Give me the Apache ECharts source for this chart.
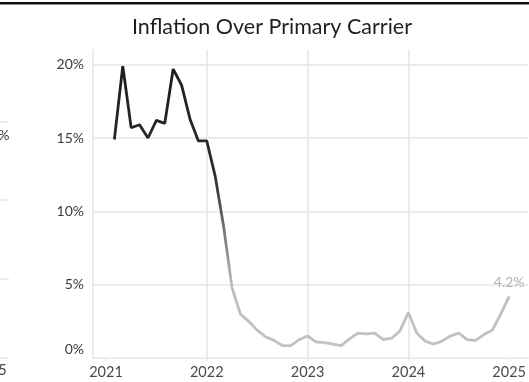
<!DOCTYPE html>
<html>
<head>
<meta charset="utf-8">
<script src="https://cdn.jsdelivr.net/npm/echarts@6/dist/echarts.min.js"></script>
<style>
  html, body { margin: 0; padding: 0; background: #fff; }
  #chart { width: 529px; height: 382px; }
</style>
</head>
<body>
<div id="chart"></div>
<script>
// Monthly inflation over the primary carrier, Feb 2021 – Jan 2025
const months = [
  '2021-02','2021-03','2021-04','2021-05','2021-06','2021-07','2021-08','2021-09','2021-10','2021-11','2021-12',
  '2022-01','2022-02','2022-03','2022-04','2022-05','2022-06','2022-07','2022-08','2022-09','2022-10','2022-11','2022-12',
  '2023-01','2023-02','2023-03','2023-04','2023-05','2023-06','2023-07','2023-08','2023-09','2023-10','2023-11','2023-12',
  '2024-01','2024-02','2024-03','2024-04','2024-05','2024-06','2024-07','2024-08','2024-09','2024-10','2024-11','2024-12',
  '2025-01'
];
const inflationPct = [
  14.9, 19.9, 15.7, 15.9, 15.0, 16.2, 16.0, 19.7, 18.6, 16.3, 14.8,
  14.8, 12.4, 9.0, 4.8, 3.0, 2.5, 1.9, 1.45, 1.2, 0.85, 0.85, 1.25,
  1.5, 1.1, 1.05, 0.95, 0.85, 1.3, 1.7, 1.65, 1.7, 1.25, 1.35, 1.85,
  3.1, 1.7, 1.15, 0.95, 1.15, 1.5, 1.7, 1.25, 1.2, 1.6, 1.9, 3.0,
  4.2
];
const yearTicks = [2021, 2022, 2023, 2024, 2025];
const yTicks = [0, 5, 10, 15, 20];

// month string -> fractional year on the value axis
function toYear(m) {
  const [y, mo] = m.split('-').map(Number);
  return y + (mo - 1) / 12;
}
const seriesData = months.map((m, i) => [toYear(m), inflationPct[i]]);
const lastIdx = seriesData.length - 1;

const gridColor = '#e6e6e6';
const chart = echarts.init(document.getElementById('chart'), null, { renderer: 'canvas' });

chart.setOption({
  backgroundColor: '#ffffff',
  animation: false,
  title: {
    text: 'Inflation Over Primary Carrier',
    left: 127,
    top: 11,
    textStyle: { fontFamily: 'Lato', fontSize: 21.5, fontWeight: 'normal', color: '#1f1f1f' }
  },
  grid: { left: 93, right: 0, top: 50, bottom: 24, containLabel: false },
  xAxis: {
    type: 'value',
    min: 2021 - 13 / 101,
    max: 2025 + 19 / 101,
    axisLine: { show: true, lineStyle: { color: gridColor, width: 1.5 } },
    axisTick: { show: true, customValues: yearTicks, length: 3, lineStyle: { color: gridColor, width: 1.5 } },
    axisLabel: {
      customValues: yearTicks,
      formatter: v => String(v),
      color: '#4a4a4a',
      fontFamily: 'Lato',
      fontSize: 14.5,
      margin: 7
    },
    splitLine: { show: true, showMinLine: false, showMaxLine: false, lineStyle: { color: gridColor, width: 1.5 } }
  },
  yAxis: {
    type: 'value',
    min: 0,
    max: 21,
    interval: 5,
    axisLine: { show: true, lineStyle: { color: gridColor, width: 1.5 } },
    axisTick: { show: false },
    axisLabel: {
      customValues: yTicks,
      formatter: v => (v === 0 ? '{lo|0%}' : v + '%'),
      color: '#3a3a3a',
      fontFamily: 'Lato',
      fontSize: 14,
      margin: 9,
      rich: { lo: { color: '#3a3a3a', fontFamily: 'Lato', fontSize: 14, padding: [0, 0, 18, 0] } }
    },
    splitLine: { show: true, showMinLine: false, showMaxLine: false, lineStyle: { color: gridColor, width: 1.5 } }
  },
  series: [{
    type: 'line',
    data: seriesData,
    showSymbol: false,
    symbol: 'none',
    lineStyle: {
      width: 2.8,
      color: new echarts.graphic.LinearGradient(0, 0, 0, 1, [
        { offset: 0, color: '#1a1c1f' },
        { offset: 0.4, color: '#2b2f34' },
        { offset: 0.78, color: '#bdbdbd' },
        { offset: 1, color: '#c2c2c2' }
      ])
    },
    markPoint: {
      symbol: 'circle',
      symbolSize: 0,
      data: [{ coord: seriesData[lastIdx], value: inflationPct[lastIdx] }],
      label: {
        show: true,
        position: 'top',
        distance: 7,
        formatter: p => p.value + '%',
        color: '#b3b3b3',
        fontFamily: 'Lato',
        fontSize: 14
      }
    }
  }],
  graphic: [
    // top rule
    { type: 'rect', left: 0, top: 2, shape: { width: 529, height: 2.5 }, style: { fill: '#111111' } },
    // edge of the neighbouring panel
    { type: 'line', shape: { x1: 0, y1: 122, x2: 9, y2: 122 }, style: { stroke: gridColor, lineWidth: 1.5 } },
    { type: 'line', shape: { x1: 0, y1: 200, x2: 9, y2: 200 }, style: { stroke: gridColor, lineWidth: 1.5 } },
    { type: 'line', shape: { x1: 0, y1: 279, x2: 9, y2: 279 }, style: { stroke: gridColor, lineWidth: 1.5 } },
    { type: 'line', shape: { x1: 0, y1: 358, x2: 9, y2: 358 }, style: { stroke: gridColor, lineWidth: 1.5 } },
    { type: 'text', left: -18, top: 128, style: { text: '15%', fill: '#3a3a3a', font: '14px Lato' } },
    { type: 'text', left: -27, top: 363, style: { text: '2025', fill: '#4a4a4a', font: '14.5px Lato' } }
  ]
});
</script>
</body>
</html>
